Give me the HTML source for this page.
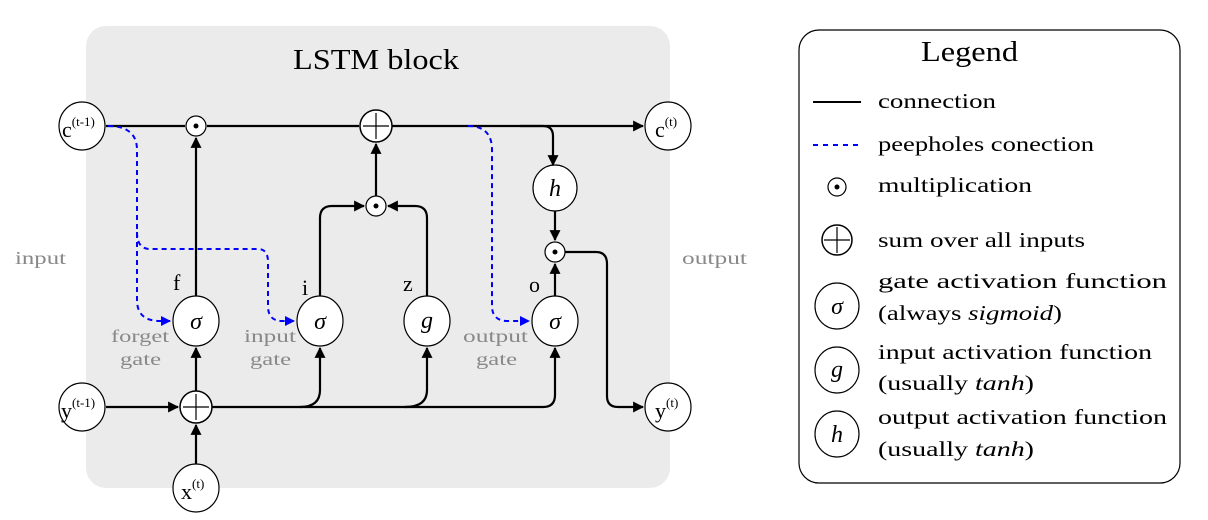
<!DOCTYPE html>
<html><head><meta charset="utf-8"><style>
html,body{margin:0;padding:0;background:#fff;}
svg{display:block;font-family:"Liberation Serif",serif;}
</style></head><body>
<svg width="1208" height="520" viewBox="0 0 1208 520" xmlns="http://www.w3.org/2000/svg">
<defs>
<marker id="a" viewBox="0 0 10 10" refX="9" refY="5" markerWidth="5" markerHeight="5" orient="auto"><path d="M0,0L10,5L0,10z" fill="#000"/></marker>
<marker id="b" viewBox="0 0 10 10" refX="9" refY="5" markerWidth="5" markerHeight="5" orient="auto"><path d="M0,0L10,5L0,10z" fill="#00f"/></marker>
</defs>
<rect x="86" y="26" width="584" height="462" rx="20" fill="#ebebeb"/>
<text x="293" y="69" font-size="28" textLength="166" lengthAdjust="spacingAndGlyphs">LSTM block</text>
<text x="15" y="264" font-size="18" fill="#888" textLength="51" lengthAdjust="spacingAndGlyphs">input</text>
<text x="682" y="264" font-size="18" fill="#888" textLength="65" lengthAdjust="spacingAndGlyphs">output</text>
<g fill="#888" font-size="18">
<text x="111" y="342" textLength="58" lengthAdjust="spacingAndGlyphs">forget</text><text x="120" y="365" textLength="41" lengthAdjust="spacingAndGlyphs">gate</text>
<text x="244" y="342" textLength="52" lengthAdjust="spacingAndGlyphs">input</text><text x="250" y="365" textLength="41" lengthAdjust="spacingAndGlyphs">gate</text>
<text x="463" y="342" textLength="65" lengthAdjust="spacingAndGlyphs">output</text><text x="476" y="365" textLength="41" lengthAdjust="spacingAndGlyphs">gate</text>
</g>
<g fill="none" stroke="#000" stroke-width="2.2">
<line x1="106" y1="126" x2="185" y2="126"/>
<line x1="207" y1="126" x2="359" y2="126"/>
<line x1="392" y1="126" x2="643" y2="126" marker-end="url(#a)"/>
<path d="M520,126 H543 Q553,126 553,136 V165" marker-end="url(#a)"/>
<line x1="196" y1="296" x2="196" y2="138" marker-end="url(#a)"/>
<path d="M320,296 V218 Q320,206 332,206 H364" marker-end="url(#a)"/>
<path d="M427,296 V218 Q427,206 415,206 H388" marker-end="url(#a)"/>
<line x1="376" y1="196" x2="376" y2="144" marker-end="url(#a)"/>
<line x1="555" y1="210" x2="555" y2="240" marker-end="url(#a)"/>
<line x1="555" y1="296" x2="555" y2="264" marker-end="url(#a)"/>
<path d="M565,252 H596 Q607,252 607,264 V396 Q607,407 618,407 H643" marker-end="url(#a)"/>
<line x1="106" y1="407" x2="178" y2="407" marker-end="url(#a)"/>
<line x1="196" y1="464" x2="196" y2="425" marker-end="url(#a)"/>
<line x1="196" y1="391" x2="196" y2="348" marker-end="url(#a)"/>
<path d="M212,407 H543 Q555,407 555,395 V348" marker-end="url(#a)"/>
<path d="M300,407 Q320,407 320,390 V348" marker-end="url(#a)"/>
<path d="M405,407 Q427,407 427,390 V348" marker-end="url(#a)"/>
</g>
<g fill="none" stroke="#00f" stroke-width="2" stroke-dasharray="5,4">
<path d="M108,126 Q137,126 137,150 V300 Q137,321 160,321 H170" marker-end="url(#b)"/>
<path d="M137,232 Q137,249 150,249 H258 Q268,249 268,262 V306 Q268,321 282,321 H294" marker-end="url(#b)"/>
<path d="M468,126 Q492,126 492,150 V306 Q492,321 508,321 H529" marker-end="url(#b)"/>
</g>
<g fill="#fff" stroke="#000" stroke-width="1.2">
<ellipse cx="82" cy="126" rx="23" ry="24"/>
<ellipse cx="668" cy="126" rx="23" ry="24"/>
<ellipse cx="82" cy="407" rx="23" ry="24"/>
<ellipse cx="668" cy="407" rx="23" ry="24"/>
<ellipse cx="196" cy="488" rx="23" ry="24"/>
<circle cx="196" cy="126" r="10"/>
<circle cx="376" cy="206" r="10"/>
<circle cx="555" cy="252" r="10"/>
<circle cx="376" cy="126" r="16" stroke-width="1.5"/>
<circle cx="196" cy="407" r="16" stroke-width="1.5"/>
<ellipse cx="196" cy="321" rx="23" ry="25"/>
<ellipse cx="320" cy="321" rx="23" ry="25"/>
<ellipse cx="427" cy="321" rx="23" ry="25"/>
<ellipse cx="555" cy="321" rx="23" ry="25"/>
<ellipse cx="555" cy="188" rx="22" ry="23"/>
</g>
<g fill="#000"><circle cx="196" cy="126" r="2.5"/><circle cx="376" cy="206" r="2.5"/><circle cx="555" cy="252" r="2.5"/></g>
<g stroke="#000" stroke-width="1.2">
<line x1="363" y1="126" x2="389" y2="126"/><line x1="376" y1="113" x2="376" y2="139"/>
<line x1="183" y1="407" x2="209" y2="407"/><line x1="196" y1="394" x2="196" y2="420"/>
</g>
<g font-size="24" text-anchor="middle" font-style="italic">
<text x="196" y="329">σ</text><text x="320" y="329">σ</text><text x="555" y="329">σ</text>
<text x="427" y="328">g</text><text x="555" y="196">h</text>
</g>
<g font-size="22">
<text x="173" y="290">f</text><text x="302" y="295">i</text><text x="403" y="291">z</text><text x="529" y="292">o</text>
<text x="62" y="137">c<tspan font-size="13" dy="-11">(t-1)</tspan></text>
<text x="655" y="137">c<tspan font-size="13" dy="-11">(t)</tspan></text>
<text x="61" y="418">y<tspan font-size="13" dy="-11">(t-1)</tspan></text>
<text x="655" y="418">y<tspan font-size="13" dy="-11">(t)</tspan></text>
<text x="181" y="499">x<tspan font-size="13" dy="-11">(t)</tspan></text>
</g>
<rect x="799" y="30" width="381" height="453" rx="20" fill="#fff" stroke="#000" stroke-width="1.2"/>
<text x="921" y="61" font-size="28" textLength="97" lengthAdjust="spacingAndGlyphs">Legend</text>
<line x1="813" y1="102" x2="861" y2="102" stroke="#000" stroke-width="2"/>
<line x1="813" y1="145" x2="861" y2="145" stroke="#00f" stroke-width="2" stroke-dasharray="5,5"/>
<g fill="#fff" stroke="#000" stroke-width="1.2">
<circle cx="837" cy="187" r="9"/>
<circle cx="837" cy="240" r="15" stroke-width="1.5"/>
<ellipse cx="837" cy="306" rx="22" ry="23"/>
<ellipse cx="837" cy="370" rx="22" ry="23"/>
<ellipse cx="837" cy="434" rx="22" ry="23"/>
</g>
<circle cx="837" cy="187" r="2.5"/>
<g stroke="#000" stroke-width="1.2"><line x1="824" y1="240" x2="850" y2="240"/><line x1="837" y1="227" x2="837" y2="253"/></g>
<g font-size="24" text-anchor="middle" font-style="italic">
<text x="837" y="314">σ</text><text x="837" y="377">g</text><text x="837" y="442">h</text>
</g>
<g font-size="21">
<text x="878" y="108" textLength="118" lengthAdjust="spacingAndGlyphs">connection</text>
<text x="878" y="151" textLength="216" lengthAdjust="spacingAndGlyphs">peepholes conection</text>
<text x="878" y="192" textLength="154" lengthAdjust="spacingAndGlyphs">multiplication</text>
<text x="878" y="247" textLength="207" lengthAdjust="spacingAndGlyphs">sum over all inputs</text>
<text x="878" y="288" textLength="289" lengthAdjust="spacingAndGlyphs">gate activation function</text>
<text x="878" y="320" textLength="184" lengthAdjust="spacingAndGlyphs">(always <tspan font-style="italic">sigmoid</tspan>)</text>
<text x="878" y="359" textLength="274" lengthAdjust="spacingAndGlyphs">input activation function</text>
<text x="878" y="390" textLength="156" lengthAdjust="spacingAndGlyphs">(usually <tspan font-style="italic">tanh</tspan>)</text>
<text x="878" y="424" textLength="289" lengthAdjust="spacingAndGlyphs">output activation function</text>
<text x="878" y="456" textLength="156" lengthAdjust="spacingAndGlyphs">(usually <tspan font-style="italic">tanh</tspan>)</text>
</g>
</svg>
</body></html>
